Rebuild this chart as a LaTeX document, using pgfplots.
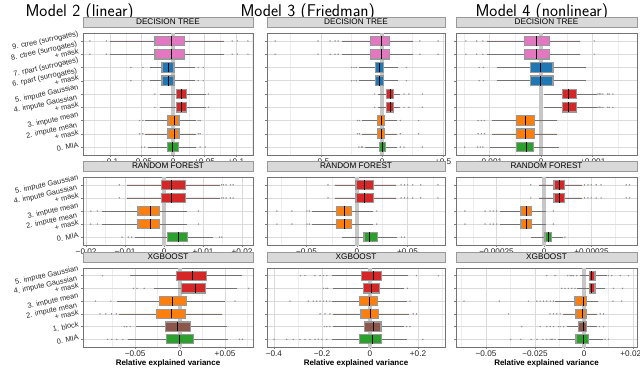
\documentclass[border=0pt]{standalone}
\usepackage{fontspec}
\setmainfont{Liberation Sans}
\usepackage{pgfplots}
\pgfplotsset{compat=1.18}
\usepgfplotslibrary{statistics}

\definecolor{cpink}{HTML}{E377C2}
\definecolor{cblue}{HTML}{1F77B4}
\definecolor{cred}{HTML}{D62728}
\definecolor{corange}{HTML}{FF7F0E}
\definecolor{cgreen}{HTML}{2CA02C}
\definecolor{cbrown}{HTML}{8C564B}

% pos, lower whisker, q1, median, q3, upper whisker, colour
\newcommand{\bx}[7]{\addplot[fill=#7, boxplot prepared={draw position=#1,
  lower whisker=#2, lower quartile=#3, median=#4, upper quartile=#5,
  upper whisker=#6}] coordinates {};}

\pgfplotsset{
  panel/.style={
    scale only axis, anchor=south west,
    tick pos=left, tick align=outside,
    major tick length=2pt, minor tick length=0pt,
    tick style={black!50, line width=0.4pt},
    axis line style={black!55, line width=0.5pt},
    xmajorgrids, ymajorgrids, xminorgrids,
    major grid style={black!14, line width=0.5pt},
    minor grid style={black!7, line width=0.4pt},
    scaled ticks=false,
    xticklabel style={font=\fontsize{8.2}{9}\selectfont, text=black!85, inner sep=1.5pt},
    yticklabel style={font=\fontsize{7.4}{7.6}\selectfont, text=black!85, rotate=12, align=right, inner sep=1.5pt},
    title style={at={(0.5,1)}, anchor=south, yshift=0pt, fill=black!15, draw=black!40,
      line width=0.4pt, minimum height=10pt, inner sep=0pt, font=\fontsize{8.2}{9}\selectfont},
    boxplot/draw direction=x,
    boxplot/box extend=0.72,
    boxplot/whisker extend=0,
    boxplot/every box/.style={draw=black!40, line width=1.1pt},
    boxplot/every whisker/.style={draw=black!55, line width=0.55pt},
    boxplot/every median/.style={draw=black, line width=0.9pt},
  },
  outl/.style={only marks, mark=*, mark size=0.45pt, black!45},
  zline/.style={black!22, line width=3.5pt},
  dt/.style={panel, height=122pt, ymin=0.4, ymax=9.6, ytick={1,...,9}, title={DECISION TREE}},
  rf/.style={panel, height=68pt, ymin=0.4, ymax=5.6, ytick={1,...,5}, title={RANDOM FOREST}},
  xg/.style={panel, height=79pt, ymin=0.4, ymax=6.6, ytick={1,...,6}, title={XGBOOST},
    xlabel={Relative explained variance}, xlabel style={font=\bfseries\fontsize{8}{9}\selectfont, inner sep=1pt}},
  c1/.style={width=170pt, title style={minimum width=170pt}},
  c2/.style={width=178pt, title style={minimum width=178pt}, yticklabels={}},
  c3/.style={width=181pt, title style={minimum width=181pt}, yticklabels={}},
}

\begin{document}
\begin{tikzpicture}
\useasboundingbox (0pt,0pt) rectangle (640pt,389pt);

\node[anchor=base west, font=\sffamily\fontsize{17}{20}\selectfont] at (22pt,372pt) {Model 2 (linear)};
\node[anchor=base west, font=\sffamily\fontsize{17}{20}\selectfont] at (237pt,372pt) {Model 3 (Friedman)};
\node[anchor=base west, font=\sffamily\fontsize{17}{20}\selectfont] at (472pt,372pt) {Model 4 (nonlinear)};

% ---------------- row 1: decision tree ----------------
\begin{axis}[dt, c1, at={(83pt,234pt)},
  xmin=-0.143, xmax=0.127,
  xtick={-0.1,-0.05,0,0.05,0.1}, xticklabels={−0.1,−0.05,0,+0.05,+0.1},
  minor xtick={-0.125,-0.075,-0.025,0.025,0.075,0.125},
  yticklabels={0. MIA,{2. impute mean\\+ mask},3. impute mean,{4. impute Gaussian\\+ mask},5. impute Gaussian,{6. rpart (surrogates)\\+ mask},7. rpart (surrogates),{8. ctree (surrogates)\\+ mask},9. ctree (surrogates)}]
\addplot[zline] coordinates {(0,0) (0,10)};
\bx{9}{-0.100}{-0.0286}{-0.003}{0.0175}{0.081}{cpink}
\bx{8}{-0.100}{-0.0286}{-0.003}{0.0175}{0.081}{cpink}
\bx{7}{-0.037}{-0.0175}{-0.008}{0.0016}{0.035}{cblue}
\bx{6}{-0.037}{-0.0175}{-0.008}{0.0016}{0.035}{cblue}
\bx{5}{-0.021}{0.0048}{0.0127}{0.022}{0.052}{cred}
\bx{4}{-0.021}{0.0048}{0.0127}{0.022}{0.052}{cred}
\bx{3}{-0.045}{-0.008}{0.0016}{0.0095}{0.036}{corange}
\bx{2}{-0.045}{-0.008}{0.0016}{0.0095}{0.036}{corange}
\bx{1}{-0.040}{-0.0095}{-0.0016}{0.008}{0.037}{cgreen}
\addplot[outl] coordinates {(-0.132,9)(-0.106,9)(0.094,9)(0.102,9)(0.119,9)
 (-0.132,8)(-0.106,8)(0.094,8)(0.102,8)(0.119,8)
 (-0.067,7)(-0.048,7)(0.040,7)(0.048,7)(-0.067,6)(-0.048,6)(0.040,6)(0.048,6)
 (-0.029,5)(0.056,5)(-0.029,4)(0.056,4)
 (-0.053,3)(-0.048,3)(0.040,3)(0.043,3)(-0.053,2)(-0.048,2)(0.040,2)(0.043,2)
 (-0.050,1)(-0.045,1)(0.043,1)(0.051,1)};
\end{axis}

\begin{axis}[dt, c2, at={(267pt,234pt)},
  xmin=-0.943, xmax=0.516,
  xtick={-0.5,0,0.5}, xticklabels={−0.5,0,+0.5},
  minor xtick={-0.75,-0.25,0.25}]
\addplot[zline] coordinates {(0,0) (0,10)};
\bx{9}{-0.33}{-0.093}{-0.008}{0.06}{0.254}{cpink}
\bx{8}{-0.33}{-0.093}{-0.008}{0.06}{0.254}{cpink}
\bx{7}{-0.19}{-0.057}{-0.022}{0.011}{0.13}{cblue}
\bx{6}{-0.19}{-0.057}{-0.022}{0.011}{0.13}{cblue}
\bx{5}{-0.03}{0.038}{0.066}{0.093}{0.15}{cred}
\bx{4}{-0.03}{0.038}{0.066}{0.093}{0.15}{cred}
\bx{3}{-0.165}{-0.038}{-0.003}{0.019}{0.12}{corange}
\bx{2}{-0.165}{-0.038}{-0.003}{0.019}{0.12}{corange}
\bx{1}{-0.14}{-0.022}{0.005}{0.025}{0.12}{cgreen}
\addplot[outl] coordinates {(-0.877,9)(-0.525,9)(-0.426,9)(-0.385,9)(-0.36,9)(0.31,9)(0.46,9)
 (-0.877,8)(-0.525,8)(-0.426,8)(-0.385,8)(-0.36,8)(0.31,8)(0.46,8)
 (-0.25,7)(-0.23,7)(-0.21,7)(0.2,7)(-0.25,6)(-0.23,6)(-0.21,6)(0.2,6)
 (-0.06,5)(0.18,5)(0.22,5)(0.33,5)(-0.06,4)(0.18,4)(0.22,4)(0.33,4)
 (-0.2,3)(-0.185,3)(0.15,3)(0.3,3)(-0.2,2)(-0.185,2)(0.15,2)(0.3,2)
 (-0.19,1)(-0.17,1)(-0.16,1)(0.15,1)(0.18,1)(0.33,1)};
\end{axis}

\begin{axis}[dt, c3, at={(456pt,234pt)},
  xmin=-0.00165, xmax=0.00186,
  xtick={-0.001,0,0.001}, xticklabels={−0.001,0,+0.001},
  minor xtick={-0.0015,-0.0005,0.0005,0.0015}]
\addplot[zline] coordinates {(0,0) (0,10)};
\bx{9}{-0.00105}{-0.00033}{-0.000084}{0.00016}{0.00076}{cpink}
\bx{8}{-0.00105}{-0.00033}{-0.000084}{0.00016}{0.00076}{cpink}
\bx{7}{-0.00086}{-0.00021}{-0.0000065}{0.00023}{0.00087}{cblue}
\bx{6}{-0.00086}{-0.00021}{-0.0000065}{0.00023}{0.00087}{cblue}
\bx{5}{0.000058}{0.00041}{0.00053}{0.00068}{0.00108}{cred}
\bx{4}{0.000058}{0.00041}{0.00053}{0.00068}{0.00108}{cred}
\bx{3}{-0.00096}{-0.00047}{-0.0003}{-0.00013}{0.0003}{corange}
\bx{2}{-0.00096}{-0.00047}{-0.0003}{-0.00013}{0.0003}{corange}
\bx{1}{-0.001}{-0.00047}{-0.00028}{-0.00014}{0.00034}{cgreen}
\addplot[outl] coordinates {(-0.00146,9)(-0.00125,9)(-0.00113,9)(0.00103,9)
 (-0.00146,8)(-0.00125,8)(-0.00113,8)(0.00103,8)
 (-0.0012,7)(-0.00112,7)(-0.0012,6)(-0.00112,6)
 (0.0011,5)(0.00113,5)(0.00116,5)(0.0012,5)(0.00129,5)(0.00132,5)(0.00139,5)
 (0.0011,4)(0.00113,4)(0.00116,4)(0.0012,4)(0.00129,4)(0.00132,4)(0.00139,4)
 (-0.00122,3)(-0.00116,3)(-0.0011,3)(-0.00122,2)(-0.00116,2)(-0.0011,2)
 (-0.00148,1)(-0.00123,1)(-0.00118,1)(-0.00113,1)};
\end{axis}

% ---------------- row 2: random forest ----------------
\begin{axis}[rf, c1, at={(83pt,144pt)},
  xmin=-0.0208, xmax=0.0228,
  xtick={-0.02,-0.01,0,0.01,0.02}, xticklabels={−0.02,−0.01,0,+0.01,+0.02},
  minor xtick={-0.015,-0.005,0.005,0.015},
  yticklabels={0. MIA,{2. impute mean\\+ mask},3. impute mean,{4. impute Gaussian\\+ mask},5. impute Gaussian}]
\addplot[zline] coordinates {(0,0) (0,10)};
\bx{5}{-0.0096}{-0.0006}{0.002}{0.0054}{0.0143}{cred}
\bx{4}{-0.0096}{-0.0006}{0.002}{0.0054}{0.0143}{cred}
\bx{3}{-0.016}{-0.0067}{-0.0036}{-0.0012}{0.0058}{corange}
\bx{2}{-0.016}{-0.0067}{-0.0036}{-0.0012}{0.0058}{corange}
\bx{1}{-0.0074}{0.00094}{0.0037}{0.0061}{0.0126}{cgreen}
\addplot[outl] coordinates {(-0.0115,5)(0.0147,5)(0.0152,5)(0.0159,5)(0.017,5)(0.0177,5)
 (-0.0115,4)(0.0147,4)(0.0152,4)(0.0159,4)(0.017,4)(0.0177,4)
 (-0.0188,3)(-0.0171,3)(0.0088,3)(-0.0188,2)(-0.0171,2)(0.0088,2)
 (-0.0108,1)(-0.0092,1)(-0.0083,1)(0.0142,1)(0.0148,1)};
\end{axis}

\begin{axis}[rf, c2, at={(267pt,144pt)},
  xmin=-0.089, xmax=0.087,
  xtick={-0.05,0,0.05}, xticklabels={−0.05,0,+0.05},
  minor xtick={-0.075,-0.025,0.025,0.075}]
\addplot[zline] coordinates {(0,0) (0,10)};
\bx{5}{-0.0218}{-0.001}{0.0073}{0.016}{0.039}{cred}
\bx{4}{-0.0218}{-0.001}{0.0073}{0.016}{0.039}{cred}
\bx{3}{-0.0449}{-0.02}{-0.0126}{-0.0053}{0.016}{corange}
\bx{2}{-0.0449}{-0.02}{-0.0126}{-0.0053}{0.016}{corange}
\bx{1}{-0.0152}{0.0069}{0.0122}{0.0201}{0.0393}{cgreen}
\addplot[outl] coordinates {(-0.0287,5)(0.0436,5)(0.047,5)(0.05,5)(0.055,5)(0.063,5)(0.08,5)
 (-0.0287,4)(0.0436,4)(0.047,4)(0.05,4)(0.055,4)(0.063,4)(0.08,4)
 (-0.0792,3)(-0.0644,3)(-0.0495,3)(-0.0472,3)(0.0195,3)
 (-0.0792,2)(-0.0644,2)(-0.0495,2)(-0.0472,2)(0.0195,2)
 (0.044,1)(0.047,1)};
\end{axis}

\begin{axis}[rf, c3, at={(456pt,144pt)},
  xmin=-0.000463, xmax=0.000489,
  xtick={-0.00025,0,0.00025}, xticklabels={−0.00025,0,+0.00025},
  minor xtick={-0.000375,-0.000125,0.000125,0.000375}]
\addplot[zline] coordinates {(0,0) (0,10)};
\bx{5}{-0.0000245}{0.0000526}{0.0000805}{0.00011}{0.000198}{cred}
\bx{4}{-0.0000245}{0.0000526}{0.0000805}{0.00011}{0.000198}{cred}
\bx{3}{-0.000232}{-0.000121}{-0.0000947}{-0.0000647}{0.0000105}{corange}
\bx{2}{-0.000232}{-0.000121}{-0.0000947}{-0.0000647}{0.0000105}{corange}
\bx{1}{-0.00007}{0.0000053}{0.0000226}{0.0000405}{0.000102}{cgreen}
\addplot[outl] coordinates {(-0.0000695,5)(0.000213,5)(0.000231,5)(0.000248,5)(0.000274,5)(0.0003,5)(0.000432,5)(0.00045,5)
 (-0.0000695,4)(0.000213,4)(0.000231,4)(0.000248,4)(0.000274,4)(0.0003,4)(0.000432,4)(0.00045,4)
 (-0.000416,3)(-0.00031,3)(-0.000284,3)(-0.000267,3)(-0.000249,3)(0.000049,3)
 (-0.000416,2)(-0.00031,2)(-0.000284,2)(-0.000267,2)(-0.000249,2)(0.000049,2)
 (0.00011,1)};
\end{axis}

% ---------------- row 3: xgboost ----------------
\begin{axis}[xg, c1, at={(83pt,42pt)},
  xmin=-0.108, xmax=0.081,
  xtick={-0.05,0,0.05}, xticklabels={−0.05,0,+0.05},
  minor xtick={-0.075,-0.025,0.025,0.075},
  yticklabels={0. MIA,1. block,{2. impute mean\\+ mask},3. impute mean,{4. impute Gaussian\\+ mask},5. impute Gaussian}]
\addplot[zline] coordinates {(0,0) (0,10)};
\bx{6}{-0.0556}{-0.0037}{0.0141}{0.0296}{0.0692}{cred}
\bx{5}{-0.0289}{0.0019}{0.0167}{0.0285}{0.063}{cred}
\bx{4}{-0.07}{-0.023}{-0.0081}{0.0074}{0.05}{corange}
\bx{3}{-0.0685}{-0.0259}{-0.0093}{0.0056}{0.0463}{corange}
\bx{2}{-0.0489}{-0.0159}{-0.003}{0.0111}{0.0519}{cbrown}
\bx{1}{-0.0585}{-0.0148}{-0.0007}{0.0148}{0.0537}{cgreen}
\addplot[outl] coordinates {(-0.0863,6)
 (-0.0519,5)(-0.048,5)(-0.04,5)(0.076,5)
 (-0.094,4)(-0.077,4)(0.061,4)
 (-0.089,3)(-0.0826,3)(-0.0763,3)(-0.071,3)
 (-0.0622,2)(-0.0593,2)(-0.0556,2)
 (-0.0807,1)(-0.0759,1)(-0.0704,1)(-0.0637,1)(0.066,1)(0.0693,1)};
\end{axis}

\begin{axis}[xg, c2, at={(267pt,42pt)},
  xmin=-0.429, xmax=0.3125,
  xtick={-0.4,-0.2,0,0.2}, xticklabels={−0.4,−0.2,0,+0.2},
  minor xtick={-0.3,-0.1,0.1,0.3}]
\addplot[zline] coordinates {(0,0) (0,10)};
\bx{6}{-0.16}{-0.0347}{0.0139}{0.0486}{0.16}{cred}
\bx{5}{-0.153}{-0.028}{0.007}{0.039}{0.14}{cred}
\bx{4}{-0.16}{-0.044}{-0.003}{0.032}{0.153}{corange}
\bx{3}{-0.155}{-0.0375}{0.004}{0.035}{0.163}{corange}
\bx{2}{-0.153}{-0.021}{0.014}{0.046}{0.14}{cbrown}
\bx{1}{-0.16}{-0.042}{0.011}{0.049}{0.153}{cgreen}
\addplot[outl] coordinates {(-0.29,6)(-0.271,6)(-0.229,6)(-0.208,6)(-0.194,6)(-0.18,6)(0.194,6)(0.285,6)
 (-0.194,5)(-0.183,5)(-0.176,5)(0.156,5)
 (-0.333,4)(-0.257,4)(-0.236,4)(-0.222,4)(-0.208,4)(-0.194,4)(-0.181,4)(-0.167,4)(0.167,4)
 (-0.208,3)(-0.1875,3)(-0.167,3)(0.18,3)(0.194,3)
 (-0.19,2)(-0.18,2)(-0.167,2)(0.153,2)(0.167,2)
 (-0.4,1)(-0.347,1)(-0.32,1)(-0.292,1)(-0.271,1)(-0.25,1)(-0.229,1)(-0.215,1)(-0.2,1)(-0.18,1)(0.22,1)};
\end{axis}

\begin{axis}[xg, c3, at={(456pt,42pt)},
  xmin=-0.0653, xmax=0.027,
  xtick={-0.05,-0.025,0,0.025}, xticklabels={−0.05,−0.025,0,+0.025},
  minor xtick={-0.0625,-0.0375,-0.0125,0.0125}]
\addplot[zline] coordinates {(0,0) (0,10)};
\bx{6}{-0.002}{0.0027}{0.0039}{0.0056}{0.0116}{cred}
\bx{5}{-0.0037}{0.0026}{0.0039}{0.0056}{0.0107}{cred}
\bx{4}{-0.0148}{-0.0046}{-0.0003}{0.0014}{0.0073}{corange}
\bx{3}{-0.0105}{-0.0041}{-0.0007}{0.001}{0.0065}{corange}
\bx{2}{-0.0088}{-0.0029}{-0.0003}{0.0014}{0.0065}{cbrown}
\bx{1}{-0.0131}{-0.0041}{-0.0003}{0.0022}{0.0099}{cgreen}
\addplot[outl] coordinates {(-0.019,6)(-0.0148,6)(-0.0083,6)(-0.0071,6)(-0.0063,6)(-0.0055,6)(-0.0037,6)(0.0124,6)(0.0141,6)(0.0184,6)(0.0226,6)
 (-0.0114,5)(-0.0097,5)(-0.008,5)(-0.0063,5)(-0.0046,5)(0.015,5)(0.0196,5)
 (-0.0612,4)(-0.0432,4)(-0.0284,4)(-0.0241,4)(-0.0224,4)(-0.0207,4)(-0.019,4)(-0.0173,4)(-0.0156,4)(0.0148,4)(0.0192,4)
 (-0.0386,3)(-0.0173,3)(-0.0156,3)(-0.0139,3)(-0.0122,3)(0.0082,3)(0.0099,3)
 (-0.0318,2)(-0.0224,2)(-0.019,2)(-0.0173,2)(-0.0156,2)(-0.0131,2)(-0.0122,2)(-0.0105,2)(0.0078,2)(0.0099,2)
 (-0.0374,1)(-0.0323,1)(-0.027,1)(-0.024,1)(-0.021,1)(-0.019,1)(-0.0173,1)(-0.0165,1)(-0.016,1)(-0.0148,1)(0.0107,1)(0.0124,1)};
\end{axis}
\end{tikzpicture}
\end{document}
